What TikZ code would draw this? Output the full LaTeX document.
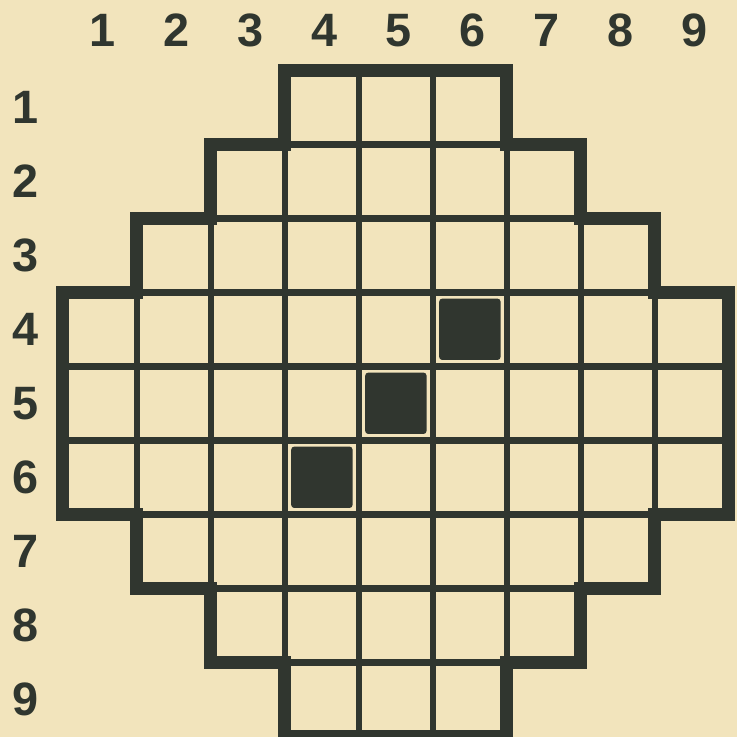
\documentclass[tikz,border=0pt]{standalone}
\usepackage{fontspec}
\setmainfont{Liberation Sans}
\usepackage{xcolor}
\definecolor{paper}{HTML}{F2E4BC}
\definecolor{ink}{HTML}{30362F}

\begin{document}
\begin{tikzpicture}[
    cellbox/.style={draw=ink, line width=2.5pt},
    rim/.style={draw=ink, line width=5pt, line join=miter},
    blackbox/.style={fill=ink, rounded corners=1.2pt},
    numlabel/.style={text=ink, inner sep=0pt, font=\fontsize{18}{18}\selectfont\bfseries}
]
    % Paper
    \fill[paper] (0,-9.96) rectangle (9.96,0);
    \useasboundingbox (0,-9.96) rectangle (9.96,0);

    \begin{scope}[shift={(0.85,-0.95)}, yscale=-1]
        % Cells
        \foreach \r/\a/\b in {1/4/6, 2/3/7, 3/2/8, 4/1/9, 5/1/9, 6/1/9, 7/2/8, 8/3/7, 9/4/6} {
            \foreach \c in {\a,...,\b} {
                \draw[cellbox] (\c-1,\r-1) rectangle (\c,\r);
            }
        }
        % Outer rim
        \draw[rim] (3,0) -- (6,0) -- (6,1) -- (7,1) -- (7,2) -- (8,2) -- (8,3) -- (9,3)
            -- (9,6) -- (8,6) -- (8,7) -- (7,7) -- (7,8) -- (6,8) -- (6,9) -- (3,9)
            -- (3,8) -- (2,8) -- (2,7) -- (1,7) -- (1,6) -- (0,6) -- (0,3) -- (1,3)
            -- (1,2) -- (2,2) -- (2,1) -- (3,1) -- cycle;
        % Black pieces
        \foreach \r/\c in {4/6, 5/5, 6/4} {
            \fill[blackbox] (\c-0.915,\r-0.915) rectangle (\c-0.085,\r-0.085);
        }
        % Numbers
        \foreach \c in {1,...,9} {
            \node[numlabel] (col\c) at (\c-0.46,-0.54) {\c};
        }
        \foreach \r in {1,...,9} {
            \node[numlabel] (row\r) at (-0.5,\r-0.5) {\r};
        }
    \end{scope}
\end{tikzpicture}
\end{document}
